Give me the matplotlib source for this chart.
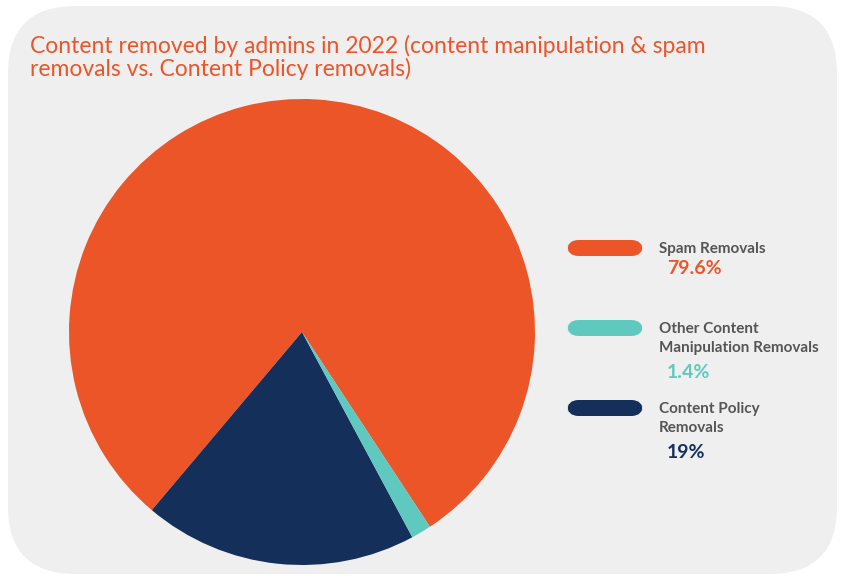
import matplotlib
matplotlib.use("Agg")
import matplotlib.pyplot as plt
from matplotlib.patches import FancyBboxPatch

labels = ["Spam Removals", "Other Content\nManipulation Removals", "Content Policy\nRemovals"]
values = [79.6, 1.4, 19.0]
pct_labels = ["79.6%", "1.4%", "19%"]
colors = ["#eb5528", "#5fc9bf", "#14305a"]

W, H = 845, 582
fig = plt.figure(figsize=(W/100, H/100), dpi=100)
fig.patch.set_facecolor("white")
bg = FancyBboxPatch((8/W, 8/H), 829/W, 568/H, boxstyle="round,pad=0,rounding_size=0.08",
                    transform=fig.transFigure, facecolor="#efefef", edgecolor="none",
                    mutation_aspect=W/H, zorder=-10)
fig.patches.append(bg)

fig.text(30/W, 1-57/H, "Content removed by admins in 2022 (content manipulation & spam\nremovals vs. Content Policy removals)",
         color="#eb5528", fontsize=16.5, family="Lato", va="center", linespacing=1.05)

cx, cy, r = 302, 332, 233
ax = fig.add_axes([(cx-r)/W, (H-cy-r)/H, 2*r/W, 2*r/H])
ax.set_zorder(5)
order = [0, 2, 1]
ax.pie([values[i] for i in order], colors=[colors[i] for i in order],
       startangle=-56.7, counterclock=True, radius=1.0)
ax.set_xlim(-1, 1); ax.set_ylim(-1, 1)
ax.set_aspect("equal")
ax.axis("off")

ys = [248, 328, 408]
for i in range(3):
    y = ys[i]
    pill = FancyBboxPatch((567/W, (H-y-8)/H), 76/W, 16/H,
                          boxstyle="round,pad=0,rounding_size=0.0137",
                          transform=fig.transFigure, facecolor=colors[i], edgecolor="none",
                          mutation_aspect=W/H)
    fig.patches.append(pill)
    nlines = labels[i].count("\n") + 1
    fig.text(659/W, 1-(y-6)/H, labels[i], color="#555555", fontsize=11, fontweight="bold",
             family="Lato", va="top", linespacing=1.45)
    py = y - 6 + nlines*23 + 4
    fig.text(667/W, 1-py/H, pct_labels[i], color=colors[i], fontsize=14, fontweight="bold",
             family="Lato", va="center")

fig.savefig("out.png", dpi=100)
